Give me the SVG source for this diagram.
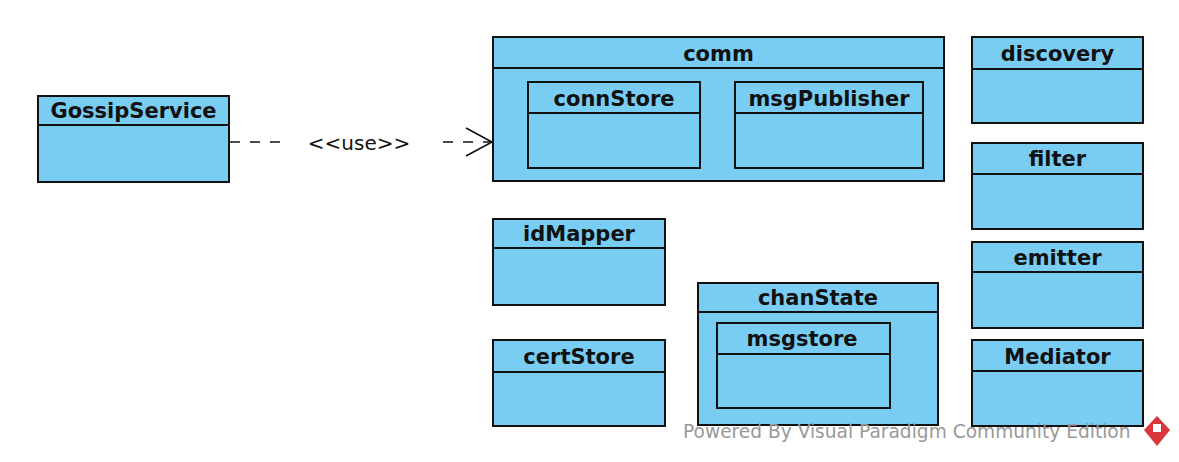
<svg xmlns="http://www.w3.org/2000/svg" width="1179" height="462" viewBox="0 0 1179 462">
<style>
.box{fill:#79CDF3;stroke:#111;stroke-width:2}
.sep{stroke:#111;stroke-width:2}
.t{font-family:"DejaVu Sans",Verdana,sans-serif;font-weight:bold;font-size:21px;fill:#111;text-anchor:middle}
.lbl{font-family:"DejaVu Sans",Verdana,sans-serif;font-size:20px;fill:#111;text-anchor:middle}
.dep{fill:none;stroke:#111;stroke-width:1.6;stroke-dasharray:10 10}
.wm{font-family:"DejaVu Sans",Verdana,sans-serif;font-size:18.6px;fill:#999}
</style>
<rect width="1179" height="462" fill="#fff"/>
<g id="GossipService">
<rect class="box" x="38" y="96" width="191" height="86"/>
<line class="sep" x1="38" y1="125" x2="229" y2="125"/>
<text class="t" x="133.5" y="118">GossipService</text>
</g>
<g id="comm">
<rect class="box" x="493" y="37" width="451" height="144"/>
<line class="sep" x1="493" y1="68" x2="944" y2="68"/>
<text class="t" x="718.5" y="61">comm</text>
</g>
<g id="connStore">
<rect class="box" x="528" y="82" width="172" height="86"/>
<line class="sep" x1="528" y1="113" x2="700" y2="113"/>
<text class="t" x="614" y="106">connStore</text>
</g>
<g id="msgPublisher">
<rect class="box" x="735" y="82" width="188" height="86"/>
<line class="sep" x1="735" y1="113" x2="923" y2="113"/>
<text class="t" x="829" y="106">msgPublisher</text>
</g>
<g id="discovery">
<rect class="box" x="972" y="37" width="171" height="86"/>
<line class="sep" x1="972" y1="69" x2="1143" y2="69"/>
<text class="t" x="1057.5" y="61">discovery</text>
</g>
<g id="filter">
<rect class="box" x="972" y="143" width="171" height="86"/>
<line class="sep" x1="972" y1="174" x2="1143" y2="174"/>
<text class="t" x="1057.5" y="166">filter</text>
</g>
<g id="emitter">
<rect class="box" x="972" y="242" width="171" height="86"/>
<line class="sep" x1="972" y1="272" x2="1143" y2="272"/>
<text class="t" x="1057.5" y="265">emitter</text>
</g>
<g id="Mediator">
<rect class="box" x="972" y="340" width="171" height="86"/>
<line class="sep" x1="972" y1="371" x2="1143" y2="371"/>
<text class="t" x="1057.5" y="364">Mediator</text>
</g>
<g id="idMapper">
<rect class="box" x="493" y="219" width="172" height="86"/>
<line class="sep" x1="493" y1="248" x2="665" y2="248"/>
<text class="t" x="579" y="241">idMapper</text>
</g>
<g id="certStore">
<rect class="box" x="493" y="340" width="172" height="86"/>
<line class="sep" x1="493" y1="372" x2="665" y2="372"/>
<text class="t" x="579" y="364">certStore</text>
</g>
<g id="chanState">
<rect class="box" x="698" y="283" width="240" height="142"/>
<line class="sep" x1="698" y1="312" x2="938" y2="312"/>
<text class="t" x="818" y="305">chanState</text>
</g>
<g id="msgstore">
<rect class="box" x="717" y="323" width="173" height="85"/>
<line class="sep" x1="717" y1="354" x2="890" y2="354"/>
<text class="t" x="802" y="346">msgstore</text>
</g>
<g id="connectors">
<line class="dep" x1="230" y1="142" x2="290" y2="142"/>
<line class="dep" x1="443" y1="142" x2="491" y2="142"/>
<polyline points="466,128 492,142 466,156" fill="none" stroke="#111" stroke-width="1.6"/>
<text class="lbl" x="359" y="150">&lt;&lt;use&gt;&gt;</text>
</g>
<g id="watermark">
<text class="wm" x="683" y="438">Powered By Visual Paradigm Community Edition</text>
<path d="M1157,416 L1170,430 L1157,446 L1144,430 Z" fill="#d9373a"/>
<path d="M1153,424 L1161,424 L1161,432 L1153,432 Z" fill="#fff"/>
</g>
</svg>
